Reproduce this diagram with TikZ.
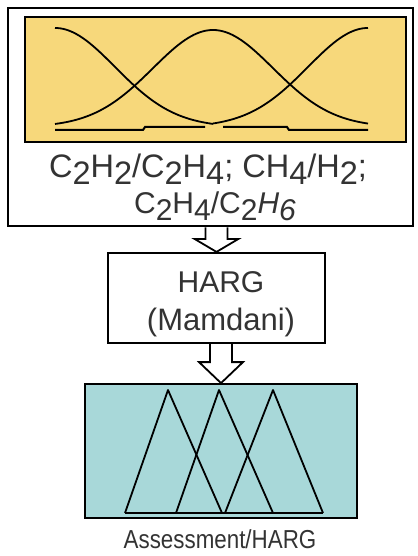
\documentclass[tikz,border=0pt]{standalone}
\usepackage{fontspec}
\setmainfont{Liberation Sans}
\usetikzlibrary{calc}
\definecolor{mfyellow}{HTML}{F7D87B}
\definecolor{mfteal}{HTML}{A8D8D9}
\definecolor{txtgray}{HTML}{333333}
\newcommand{\lo}[1]{\raisebox{-7pt}{#1}}
\newcommand{\hollowarrow}[3]{\draw[blockarr] ($(#1)+(-11,0)$) -- ($(#2)+(-11,-#3)$)
  -- ($(#2)+(-22,-#3)$) -- (#2) -- ($(#2)+(22,-#3)$) -- ($(#2)+(11,-#3)$) -- ($(#1)+(11,0)$);}

\begin{document}
\begin{tikzpicture}[x=1pt,y=-1pt,
    box/.style={draw, rectangle, inner sep=0pt},
    mf/.style={line width=1.8pt, line join=round},
    lbl/.style={text=txtgray, inner sep=0pt, anchor=base},
    blockarr/.style={draw, fill=white, line width=1.8pt, line join=miter}]
  \useasboundingbox (0,0) rectangle (417,556);
  % inputs
  \node[box, line width=2.6pt, minimum width=405pt, minimum height=218pt] (inp) at (210.5,117) {};
  \node[box, fill=mfyellow, line width=1.6pt, minimum width=381pt, minimum height=125pt] (fin) at (215.5,79.5) {};
  \draw[mf, domain=55:213, samples=60] plot (\x, {127-99*exp(-((\x-55)/60)^2/2)});
  \draw[mf, domain=55:368, samples=100] plot (\x, {127-97*exp(-((\x-213)/60)^2/2)});
  \draw[mf, domain=213:368, samples=60] plot (\x, {127-99*exp(-((\x-368)/60)^2/2)});
  \draw[line width=2pt] (55,130) -- (143,130) -- (145,127) -- (205,127) (223,127) -- (287,127) -- (289,130) -- (368,130);
  \node[lbl, font=\fontsize{32.5}{32}\selectfont] (r1) at (208,177)
    {C\lo{2}H\lo{2}/C\lo{2}H\lo{4}; CH\lo{4}/H\lo{2};};
  \node[lbl, font=\fontsize{30}{30}\selectfont] (r2) at (215,213)
    {C\lo{2}H\lo{4}/C\lo{2}\textit{H\lo{6}}};
  % rule base
  \node[box, line width=2.2pt, minimum width=217pt, minimum height=90pt] (harg) at (216.5,298) {};
  \node[lbl, font=\fontsize{30}{30}\selectfont] (hname) at (221,292) {HARG};
  \node[lbl, font=\fontsize{31}{31}\selectfont] (htype) at (221,330) {(Mamdani)};
  % output
  \node[box, fill=mfteal, line width=1.8pt, minimum width=272pt, minimum height=134pt] (out) at (221,451) {};
  \draw[mf] (125,513) -- (168,390) -- (222,513);
  \draw[mf] (176,513) -- (219,390) -- (273,513);
  \draw[mf] (225,513) -- (273,390) -- (323,513);
  \draw[line width=1.2pt] (125,513) -- (323,513);
  \node[lbl, font=\fontsize{26}{26}\selectfont] (res) at (220,548) {\scalebox{0.86}[1]{Assessment/HARG}};
  % arrows
  \hollowarrow{inp.south -| harg.north}{harg.north}{13}
  \hollowarrow{harg.south -| out.north}{out.north}{21}
\end{tikzpicture}
\end{document}
